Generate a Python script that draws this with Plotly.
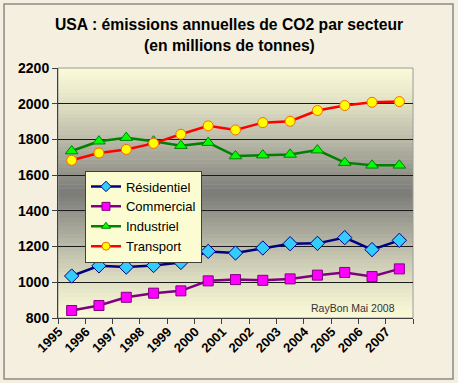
import plotly.graph_objects as go

years = ["1995", "1996", "1997", "1998", "1999", "2000", "2001",
         "2002", "2003", "2004", "2005", "2006", "2007"]
residentiel = [1035, 1092, 1085, 1094, 1111, 1173, 1164, 1192, 1216, 1218, 1250, 1183, 1235]
commercial = [842, 870, 916, 939, 952, 1008, 1015, 1011, 1019, 1040, 1055, 1032, 1075]
industriel = [1735, 1790, 1810, 1790, 1765, 1782, 1707, 1712, 1716, 1740, 1670, 1655, 1655]
transport = [1683, 1724, 1744, 1778, 1829, 1876, 1853, 1894, 1902, 1962, 1990, 2008, 2012]
y_ticks = [800, 1000, 1200, 1400, 1600, 1800, 2000, 2200]
grid_vals = [1000, 1200, 1400, 1600, 1800, 2000]

xs = list(range(len(years)))

FONT = "Liberation Sans, Arial, sans-serif"

series = [
    ("Résidentiel", residentiel, "#000080", "#33ccff", "#000080", "diamond", 11),
    ("Commercial", commercial, "#800080", "#ff00ff", "#800080", "square", 10),
    ("Industriel", industriel, "#008000", "#00ff00", "#008000", "triangle-up", 11),
    ("Transport", transport, "#ff0000", "#ffff00", "#ff6600", "circle", 10),
]

fig = go.Figure()
for name, vals, lc, fc, mc, sym, sz in series:
    fig.add_trace(go.Scatter(
        x=xs, y=vals, name=name, mode="lines+markers", showlegend=False,
        legendgroup=name,
        line=dict(color=lc, width=2.5),
        marker=dict(symbol=sym, size=sz, color=fc, line=dict(color=mc, width=1)),
    ))
# legend entries (smaller symbols, as in the original legend)
for name, vals, lc, fc, mc, sym, sz in series:
    fig.add_trace(go.Scatter(
        x=[None], y=[None], name=name, mode="lines+markers", showlegend=True,
        legendgroup=name,
        line=dict(color=lc, width=2.5),
        marker=dict(symbol=sym, size=8, color=fc, line=dict(color=mc, width=1)),
    ))

# vertical gradient background for plot area (pale yellow -> gray -> pale yellow)
top = (250, 250, 216)
mid = (122, 122, 120)
n = 60
shapes = []
for i in range(n):
    t = (i + 0.5) / n
    f = (1 - abs(2 * t - 1)) ** 1.25
    c = tuple(int(round(top[k] + (mid[k] - top[k]) * f)) for k in range(3))
    shapes.append(dict(type="rect", xref="paper", yref="paper",
                       x0=0, x1=1, y0=i / n, y1=(i + 1) / n + 0.002,
                       fillcolor="rgb(%d,%d,%d)" % c, line=dict(width=0),
                       layer="below"))
# plot area border
shapes.append(dict(type="rect", xref="paper", yref="paper", x0=0, x1=1, y0=0, y1=1,
                   line=dict(color="#9a9a9a", width=1), layer="between"))
# outer frame
shapes.append(dict(type="rect", xref="paper", yref="paper",
                   x0=-0.152, x1=1.1127, y0=-0.244, y1=1.256,
                   line=dict(color="#8a8a8a", width=1.5), layer="below"))

fig.update_layout(
    width=458, height=383,
    margin=dict(l=58, r=45, t=68, b=65),
    paper_bgcolor="#f4efde",
    plot_bgcolor="rgba(0,0,0,0)",
    showlegend=True,
    shapes=shapes,
    font=dict(family=FONT, color="black"),
    legend=dict(x=0.076, y=0.59, xanchor="left", yanchor="top",
                bgcolor="#fcfcd2", bordercolor="#404040", borderwidth=1,
                font=dict(family=FONT, size=13, color="black"),
                itemwidth=30, tracegroupgap=0),
    annotations=[
        dict(text="USA : émissions annuelles de CO2 par secteur", xref="paper", yref="paper",
             x=0.4817, y=1.176, showarrow=False, xanchor="center", yanchor="middle",
             font=dict(family=FONT, size=15.7, weight="bold", color="black")),
        dict(text="(en millions de tonnes)", xref="paper", yref="paper",
             x=0.4817, y=1.088, showarrow=False, xanchor="center", yanchor="middle",
             font=dict(family=FONT, size=15.7, weight="bold", color="black")),
        dict(text="RayBon Mai 2008", xref="paper", yref="paper",
             x=0.955, y=0.04, showarrow=False, xanchor="right", yanchor="middle",
             font=dict(family=FONT, size=10.5, color="#333333")),
    ],
)

fig.update_xaxes(
    range=[-0.5, len(years) - 0.5],
    tickmode="array", tickvals=xs, ticktext=years,
    ticks="", tickangle=-45, ticklabelshift=-13,
    tickfont=dict(family=FONT, size=13, weight="bold", color="black"),
    showgrid=False, zeroline=False,
    showline=True, linecolor="#404040", linewidth=1,
    minor=dict(tickmode="array", tickvals=[i - 0.5 for i in range(len(years) + 1)],
               ticks="outside", ticklen=5, tickcolor="#404040", tickwidth=1, showgrid=False),
)
fig.update_yaxes(
    range=[800, 2200], tickmode="array", tickvals=y_ticks,
    ticks="outside", ticklen=5, tickcolor="#404040",
    tickfont=dict(family=FONT, size=14, weight="bold", color="black"),
    showgrid=False, zeroline=False,
    showline=True, linecolor="#404040", linewidth=1,
    minor=dict(tickmode="array", tickvals=grid_vals, ticks="", showgrid=True,
               gridcolor="#1a1a1a", gridwidth=1),
)

fig.write_html("out.html", config={"displayModeBar": False},
               post_script="document.body.style.margin='0';")
